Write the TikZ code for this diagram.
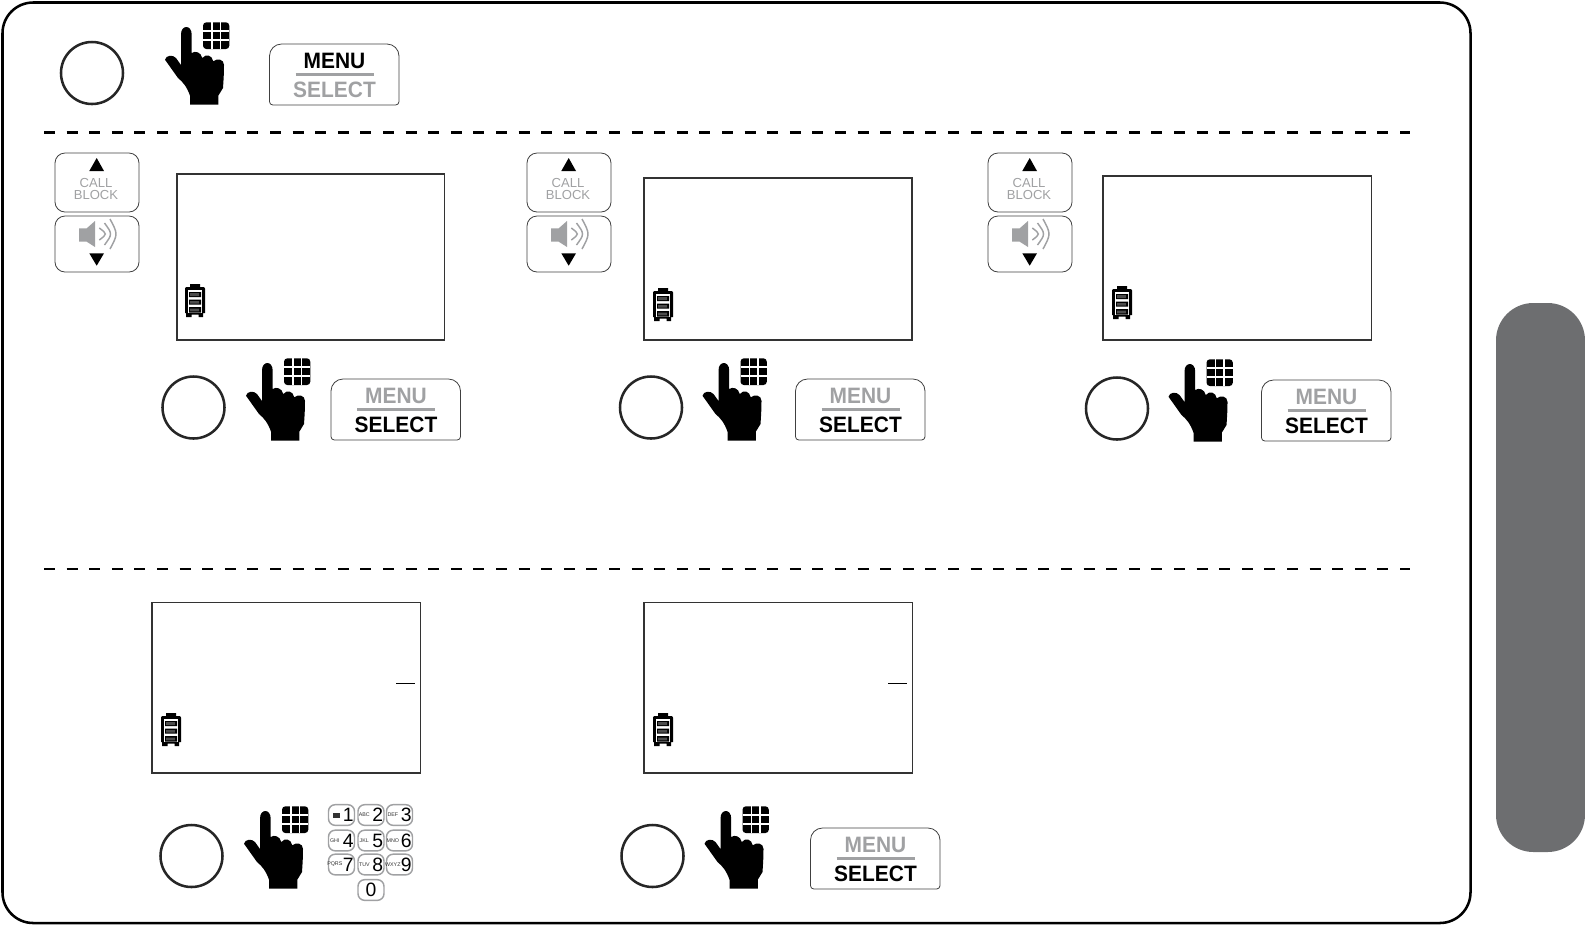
\documentclass[tikz,border=0pt]{standalone}
\usepackage{fontspec}
\newfontfamily\keyfont[FakeStretch=0.94]{Liberation Sans}
\newfontfamily\smallfont{Liberation Sans}
\definecolor{tabgrey}{HTML}{6D6E70}
\definecolor{keygrey}{HTML}{A0A1A3}
\definecolor{lcdline}{HTML}{333333}
\tikzset{every picture/.style={line width=0.75pt}}
\tikzset{
  every pic/.style={yscale=-1},
  framebox/.style={draw=black,line width=1.9pt,rounded corners=23pt},
  sidetab/.style={fill=tabgrey,draw=none,rounded corners=28pt},
  lcdbox/.style={draw=lcdline,line width=0.9pt},
  lcdmark/.style={draw=black,line width=0.75pt},
  stepring/.style={draw=black!85,line width=1.9pt},
  keyline/.style={draw=black!75,line width=0.6pt},
  keylabel/.style={font=\keyfont\bfseries\fontsize{16.7pt}{18pt}\selectfont,inner sep=0pt},
  blocklabel/.style={font=\smallfont\fontsize{9.8pt}{9.4pt}\selectfont,text=keygrey,inner sep=0pt,align=center},
  padkey/.style={draw=keygrey,line width=1.1pt,rounded corners=5pt,minimum width=19.5pt,minimum height=15.5pt,inner sep=0pt,fill=white},
  paddigit/.style={font=\smallfont\fontsize{14.5pt}{15pt}\selectfont,inner sep=0pt},
  padtag/.style={font=\smallfont\fontsize{4pt}{4pt}\selectfont,text=black!80,inner sep=0pt},
  pics/handicon/.style={code={
    \fill[black] (16,7.5) .. controls (16,-2.5) and (26.7,-2.5) .. (26.7,7.5) -- (26.7,26) .. controls (30,23.5) and (36,25) .. (37.3,31) .. controls (41,26.5) and (47,28) .. (48.3,34.3) .. controls (52,31) and (59,32) .. (59,38) .. controls (59,46) and (58.5,54) .. (58,61) -- (53.3,68.7) -- (53.3,77.7) -- (25,77.7) -- (25,68.7) .. controls (22,60) and (18,55) .. (13,51) -- (0,32.7) .. controls (1,28) and (8,27.5) .. (11,31) -- (16,38) -- cycle ;
    \fill[black,rounded corners=2.5pt] (38,-4.7) rectangle (64.3,22) ;
    \draw[white,line width=1.2pt] (46.8,-4.7) -- (46.8,22) (55.5,-4.7) -- (55.5,22) (38,4.2) -- (64.3,4.2) (38,13.1) -- (64.3,13.1) ;
  }},
  pics/menukey/.style 2 args={code={
    \draw[keyline] [rounded corners=2.5pt] (0,31) -- (0,61) -- (129.5,61) -- (129.5,31) [rounded corners=9pt] -- (129.5,0) -- (0,0) -- cycle ;
    \draw[keygrey,line width=1.6pt] (26,30.5) -- (104,30.5) ;
    \node[keylabel,text=#1] (-menu) at (65,16.5) {MENU};
    \node[keylabel,text=#2] (-select) at (65,45.5) {SELECT};
  }},
  pics/blockkeys/.style={code={
    \draw[keyline,rounded corners=7.5pt] (0,1) rectangle (84,60) ;
    \draw[keyline,rounded corners=7.5pt] (0,64) rectangle (84,120) ;
    \fill[black] (41.7,6) -- (34.3,19) -- (49,19) -- cycle ;
    \node[blocklabel] (-block) at (41,37) {CALL\\BLOCK};
    \fill[keygrey] (24,76.3) -- (31.7,76.3) -- (40,69) -- (40,95) -- (31.7,89.7) -- (24,89.7) -- cycle ;
    \draw[keygrey,line width=1.1pt] (44.3,76) .. controls (52.3,82) .. (44.3,88) (49.5,71) .. controls (57.5,82) .. (49.5,93) (55,67) .. controls (63,82) .. (55,97) ;
    \fill[black] (34.3,101.3) -- (49,101.3) -- (41.7,113.7) -- cycle ;
  }},
  pics/battery/.style={code={
    \fill[black] (5,0) -- (15,0) -- (15,3) -- (19,3) -- (20,4.5) -- (20,29) -- (18,29) -- (18,33) -- (13.5,33) -- (13.5,30.5) -- (6.5,30.5) -- (6.5,33) -- (1,33) -- (1,29) -- (0,29) -- (0,4.5) -- (1,3) -- (5,3) -- cycle ;
    \fill[white] (3,6) rectangle (17,28.5) ;
    \fill[black] (4,8) rectangle (16,13) (4,15.7) rectangle (16,20.7) (4,23) rectangle (16,28.5) ;
    \fill[black!70] (5,9) rectangle (14,12) (5,17) rectangle (14,19.5) (5,24.5) rectangle (14,27.3) ;
  }},
}
\begin{document}
\begin{tikzpicture}[x=0.75pt,y=0.75pt,yscale=-1,xscale=1]
	\useasboundingbox (0,0) rectangle (1585,926);

	%Outer frame and side tab
	\draw[framebox] (2.5,2.5) rectangle (1470.5,923);
	\path[sidetab] (1496,303) rectangle (1585,852);

	%Dashed separators
	\draw[line width=2.2pt,dash pattern={on 8.25pt off 8.7pt}] (44,132.3) -- (1410,132.3);
	\draw[line width=1.5pt,dash pattern={on 8.25pt off 8.7pt}] (44,569) -- (1410,569);

	%Top row
	\draw[stepring] (92,73) circle (31);
	\pic (handA) at (165,27) {handicon};
	\pic (menuA) at (269.5,44) {menukey={black}{keygrey}};

	%Up and down keys
	\pic (blockA) at (55,152) {blockkeys};
	\pic (blockB) at (527,152) {blockkeys};
	\pic (blockC) at (988,152) {blockkeys};

	%Screens of the second row
	\draw[lcdbox] (177,174) rectangle (444.5,340);
	\draw[lcdbox] (644,178) rectangle (912,340);
	\draw[lcdbox] (1103,176) rectangle (1371.5,340);
	\pic (battA) at (185,284) {battery};
	\pic (battB) at (653,288) {battery};
	\pic (battC) at (1112,286) {battery};

	%Steps of the second row
	\draw[stepring] (193.5,407.5) circle (31);
	\pic (handB) at (246,363) {handicon};
	\pic (menuB) at (331,379) {menukey={keygrey}{black}};
	\draw[stepring] (651,407.5) circle (31);
	\pic (handC) at (702.5,363) {handicon};
	\pic (menuC) at (795.5,379) {menukey={keygrey}{black}};
	\draw[stepring] (1117,408.5) circle (31);
	\pic (handD) at (1168.5,364) {handicon};
	\pic (menuD) at (1261.5,380) {menukey={keygrey}{black}};

	%Screens of the third row
	\draw[lcdbox] (152,602.5) rectangle (420.5,773);
	\draw[lcdbox] (644,602.5) rectangle (912.5,773);
	\draw[lcdmark] (396,683.5) -- (415,683.5);
	\draw[lcdmark] (888,683.5) -- (906.5,683.5);
	\pic (battD) at (161,713) {battery};
	\pic (battE) at (653,713) {battery};

	%Steps of the third row
	\draw[stepring] (191.5,856) circle (31);
	\pic (handE) at (244,811) {handicon};
	\draw[stepring] (652.5,856) circle (31);
	\pic (handF) at (704.5,811) {handicon};
	\pic (menuE) at (810.5,828) {menukey={keygrey}{black}};

	%Number pad
	\foreach \d/\px/\py/\tag in {2/371/815/ABC,3/399.5/815/DEF,4/341.5/840.5/GHI,5/371/840.5/JKL,6/399.5/840.5/MNO,7/341.5/864.5/PQRS,8/371/864.5/TUV,9/399.5/864.5/WXYZ}{
		\node[padkey] (key\d) at (\px,\py) {};
		\node[paddigit] (num\d) at ([xshift=5pt]key\d.center) {\d};
		\node[padtag] (tag\d) at ([xshift=-5pt]key\d.center) {\tag};
	}
	\node[padkey] (key1) at (341.5,815) {};
	\node[paddigit] (num1) at ([xshift=5pt]key1.center) {1};
	\fill[black!80] (333,812.5) rectangle (340,817.5);
	\node[padkey] (key0) at (371,890) {};
	\node[paddigit] (num0) at (key0.center) {0};

\end{tikzpicture}
\end{document}
